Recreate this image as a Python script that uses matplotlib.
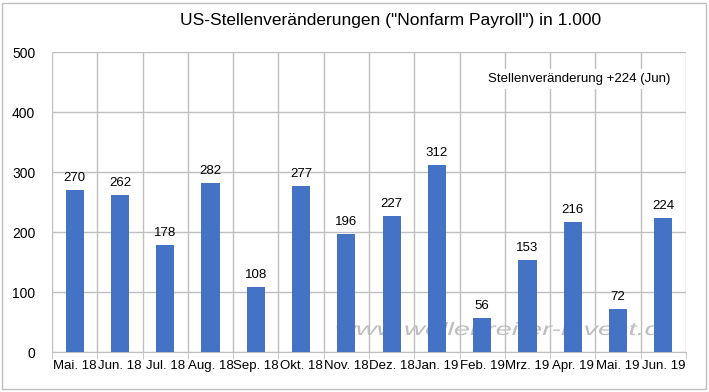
import matplotlib.pyplot as plt
import numpy as np
from matplotlib.textpath import TextPath
from matplotlib.patches import PathPatch, Rectangle
from matplotlib.font_manager import FontProperties
from matplotlib.transforms import Affine2D

plt.rcParams['font.family'] = ['Liberation Sans', 'DejaVu Sans']

months = ['Mai. 18', 'Jun. 18', 'Jul. 18', 'Aug. 18', 'Sep. 18', 'Okt. 18', 'Nov. 18',
          'Dez. 18', 'Jan. 19', 'Feb. 19', 'Mrz. 19', 'Apr. 19', 'Mai. 19', 'Jun. 19']
jobs = [270, 262, 178, 282, 108, 277, 196, 227, 312, 56, 153, 216, 72, 224]

W, H = 709, 392
fig = plt.figure(figsize=(W / 100, H / 100), dpi=100)
ax = fig.add_axes([52 / W, 40 / H, 634 / W, 300 / H])

x = np.arange(len(months))
ax.bar(x, jobs, width=0.4, color='#4472C4', zorder=3)
for xi, v in zip(x, jobs):
    ax.text(xi, v + 10, str(v), ha='center', va='bottom', fontsize=9.5, zorder=4)

ax.set_xlim(-0.5, len(months) - 0.5)
ax.set_ylim(0, 500)
ax.set_yticks(range(0, 501, 100))
ax.set_xticks(x)
ax.set_xticklabels(months, fontsize=9.5)
ax.set_xticks(np.arange(-0.5, len(months), 1), minor=True)
ax.tick_params(axis='x', which='major', length=0, pad=6)
ax.tick_params(axis='x', which='minor', length=5, color='#BFBFBF')
ax.tick_params(axis='y', length=0, labelsize=10, pad=12)
ax.grid(True, axis='y', color='#BFBFBF', lw=1, zorder=0)
ax.grid(True, axis='x', which='minor', color='#BFBFBF', lw=1, zorder=0)
for s in ['top', 'right', 'left']:
    ax.spines[s].set_visible(False)
ax.spines['bottom'].set_color('#BFBFBF')

ax.text(0.975, 0.91, 'Stellenveränderung +224 (Jun)', transform=ax.transAxes,
        ha='right', va='center', fontsize=9.5, zorder=5,
        bbox=dict(facecolor='white', edgecolor='none', pad=3))

# watermark: wide, flat italic text, clipped on the right
fp = FontProperties(family='Liberation Sans', style='italic')
ref = TextPath((0, 0), 'www.wellenreiter-invest.', size=1, prop=fp)
tp = TextPath((0, 0), 'www.wellenreiter-invest.de', size=1, prop=fp)
x0, x1 = 335, 641
sx = (x1 - x0) / ref.get_extents().x1
sy = 18
tr = Affine2D().scale(sx / W, sy / H).translate(x0 / W, (H - 335) / H) + fig.transFigure
wm = PathPatch(tp, transform=tr, facecolor='#BEBEBE', edgecolor='none', zorder=2)
ax.add_artist(wm)
clip = Rectangle((0, 0), 656 / W, 1, transform=fig.transFigure)
wm.set_clip_path(clip)

fig.text(391 / W, 0.948, 'US-Stellenveränderungen ("Nonfarm Payroll") in 1.000',
         ha='center', va='center', fontsize=12.5)

fig.patches.append(Rectangle((2 / W, 3 / H), 704 / W, 386 / H,
                             transform=fig.transFigure, fill=False,
                             edgecolor='#BFBFBF', lw=1))

fig.savefig('out.png', dpi=100)
